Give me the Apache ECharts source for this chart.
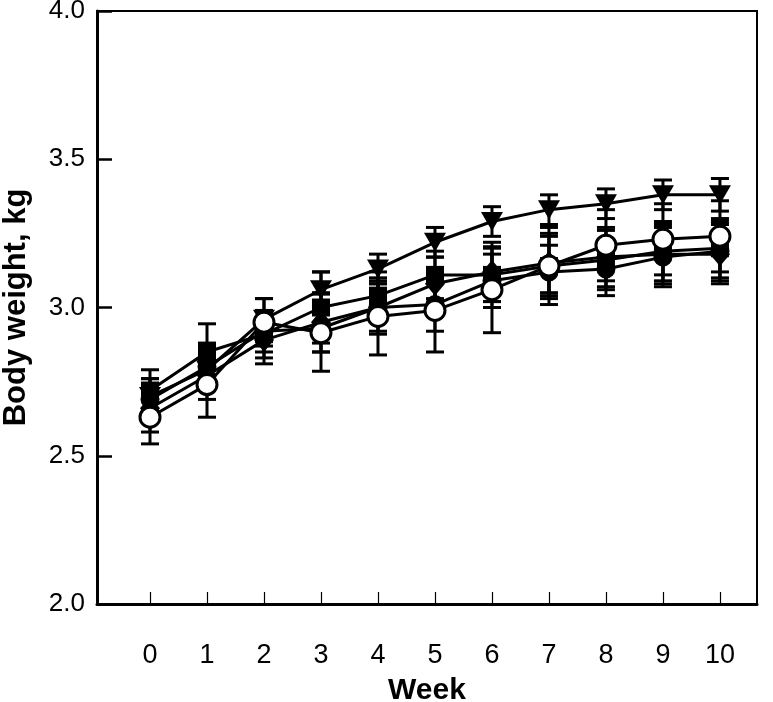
<!DOCTYPE html>
<html>
<head>
<meta charset="utf-8">
<script src="https://cdn.jsdelivr.net/npm/echarts@6/dist/echarts.min.js"></script>
<style>html,body{margin:0;padding:0;background:#fff}#c{width:773px;height:702px}</style>
</head>
<body>
<div id="c"></div>
<script>
const weeks = [0,1,2,3,4,5,6,7,8,9,10];
const yTicks = [2.0,2.5,3.0,3.5,4.0];
const filledCircle = [2.69,2.80,2.92,2.93,3.00,3.01,3.09,3.12,3.13,3.17,3.19];
const filledCircleErr = [0.07,0.08,0.07,0.08,0.08,0.09,0.09,0.09,0.09,0.10,0.10];
const openCircle = [2.63,2.74,2.95,2.915,2.97,2.99,3.06,3.14,3.21,3.23,3.24];
const openCircleErr = [0.09,0.11,0.08,0.13,0.13,0.14,0.145,0.13,0.12,0.12,0.12];
const triangle = [2.70,2.79,2.96,3.06,3.13,3.22,3.29,3.33,3.35,3.38,3.38];
const triangleErr = [0.06,0.07,0.07,0.06,0.05,0.05,0.05,0.05,0.05,0.05,0.055];
const square = [2.72,2.85,2.91,3.00,3.04,3.11,3.11,3.14,3.16,3.19,3.20];
const squareErr = [0.07,0.095,0.08,0.12,0.08,0.08,0.09,0.10,0.10,0.10,0.10];
const diamond = [2.66,2.77,2.89,2.95,3.00,3.08,3.12,3.15,3.17,3.18,3.18];
const diamondErr = [0.08,0.08,0.08,0.10,0.09,0.09,0.10,0.10,0.10,0.10,0.10];

const groups = [
  {name:'filledCircle', v:filledCircle, e:filledCircleErr, symbol:'circle', fill:'#000', size:19},
  {name:'diamond', v:diamond, e:diamondErr, symbol:'diamond', fill:'#000', size:[20,24]},
  {name:'square', v:square, e:squareErr, symbol:'rect', fill:'#000', size:18},
  {name:'triangle', v:triangle, e:triangleErr, symbol:'path://M0,0 L10,0 L5,9 Z', fill:'#000', size:[22,19]},
  {name:'openCircle', v:openCircle, e:openCircleErr, symbol:'circle', fill:'#fff', size:20}
];

const series = [];
groups.forEach(g => {
  series.push({
    type:'custom', name:g.name+'Err', z:1, silent:true,
    data: weeks.map((w,i)=>[w, g.v[i]-g.e[i], g.v[i]+g.e[i]]),
    renderItem: (params, api) => {
      const lo = api.coord([api.value(0), api.value(1)]);
      const hi = api.coord([api.value(0), api.value(2)]);
      const hw = 9;
      const st = {stroke:'#000', lineWidth:3};
      return {type:'group', children:[
        {type:'line', shape:{x1:lo[0],y1:lo[1],x2:hi[0],y2:hi[1]}, style:st},
        {type:'line', shape:{x1:lo[0]-hw,y1:lo[1],x2:lo[0]+hw,y2:lo[1]}, style:st},
        {type:'line', shape:{x1:hi[0]-hw,y1:hi[1],x2:hi[0]+hw,y2:hi[1]}, style:st}
      ]};
    }
  });
});
groups.forEach((g,k) => {
  series.push({
    type:'line', name:g.name, z:2+k,
    data: weeks.map((w,i)=>[w, g.v[i]]),
    symbol:g.symbol, symbolSize:g.size, showAllSymbol:true,
    lineStyle:{color:'#000', width:3},
    itemStyle:{color:g.fill, borderColor:'#000', borderWidth: g.fill==='#fff'?3:0},
    animation:false
  });
});

const chart = echarts.init(document.getElementById('c'), null, {renderer:'canvas'});
chart.setOption({
  animation:false,
  backgroundColor:'#fff',
  grid:{left:97, right:16, top:11, bottom:98, show:true, borderColor:'#000', borderWidth:2, backgroundColor:'transparent', outerBoundsMode:'none', containLabel:false},
  xAxis:{
    type:'value', min:-0.93, max:10.65,
    name:'Week', nameLocation:'middle', nameGap:72,
    nameTextStyle:{fontFamily:'Liberation Sans', fontWeight:'bold', fontSize:30, color:'#000'},
    axisLine:{show:true, onZero:false, lineStyle:{color:'#000', width:3}},
    axisTick:{show:true, inside:true, length:12, customValues:weeks, lineStyle:{color:'#000', width:1.2}},
    axisLabel:{customValues:weeks, fontFamily:'Liberation Sans', fontSize:27, color:'#000', margin:38},
    splitLine:{show:false}
  },
  yAxis:{
    type:'value', min:2.0, max:4.0, interval:0.5,
    name:'Body weight, kg', nameLocation:'middle', nameGap:65,
    nameTextStyle:{fontFamily:'Liberation Sans', fontWeight:'bold', fontSize:31, color:'#000'},
    axisLine:{show:true, onZero:false, lineStyle:{color:'#000', width:3}},
    axisTick:{show:true, inside:true, length:15, lineStyle:{color:'#000', width:2.5}},
    axisLabel:{customValues:yTicks, formatter:v=>v.toFixed(1), fontFamily:'Liberation Sans', fontSize:26, color:'#000', margin:12},
    splitLine:{show:false}
  },
  series: series
});
</script>
</body>
</html>
